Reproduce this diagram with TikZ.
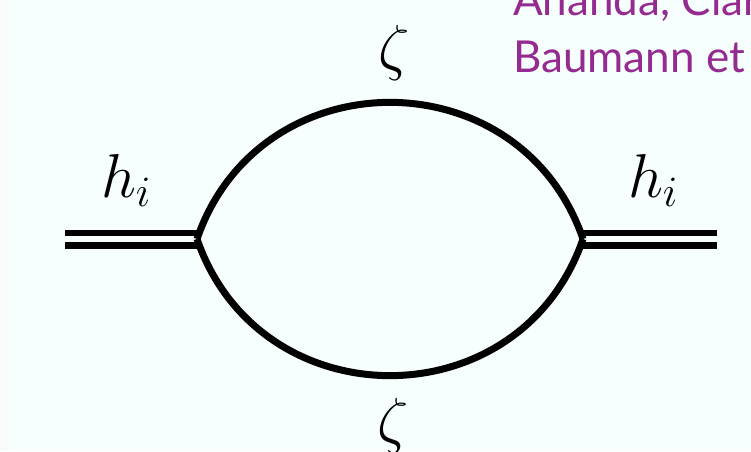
\RequirePackage{fix-cm}
\documentclass[tikz,border=0pt]{standalone}
\usepackage{fontspec}
\newfontfamily\citefont{Lato}
\definecolor{bg}{HTML}{F6FEFE}
\definecolor{edge}{HTML}{FAFBFB}
\definecolor{cite}{HTML}{952A90}

\begin{document}
\begin{tikzpicture}[x=1pt, y=1pt,
  prop/.style={line width=7pt},
  dbl/.style={line width=6.5pt, double=bg, double distance=6pt},
  lbl/.style={inner sep=0pt, anchor=base, font=\fontsize{62}{74}\selectfont},
  ref/.style={inner sep=0pt, anchor=base west, text=cite,
              font=\citefont\fontsize{44}{56}\selectfont}]
  \fill[bg] (0,0) rectangle (751,451);
  \fill[edge] (0,0) rectangle (9,451);
  \useasboundingbox (0,0) rectangle (751,451);
  \clip (0,0) rectangle (751,451);
  % external legs and vertices
  \coordinate (el) at (65,212);
  \coordinate (vl) at (197,212);
  \coordinate (vr) at (583,212);
  \coordinate (er) at (717,212);
  \draw[dbl] (el) -- (vl);
  \draw[dbl] (vr) -- (er);
  % loop
  \draw[prop] (vl) to[out=71, in=109, looseness=1.28] (vr);
  \draw[prop] (vl) to[out=-71, in=-109, looseness=1.28] (vr);
  % labels
  \node[lbl] (hl) at (126,254) {$h_i$};
  \node[lbl] (hr) at (653,254) {$h_i$};
  \node[lbl] (zt) at (394,383) {$\zeta$};
  \node[lbl] (zb) at (393,10)  {$\zeta$};
  \node[ref] (r1) at (513,435) {Ananda, Clar};
  \node[ref] (r2) at (513,379) {Baumann et};
\end{tikzpicture}
\end{document}
